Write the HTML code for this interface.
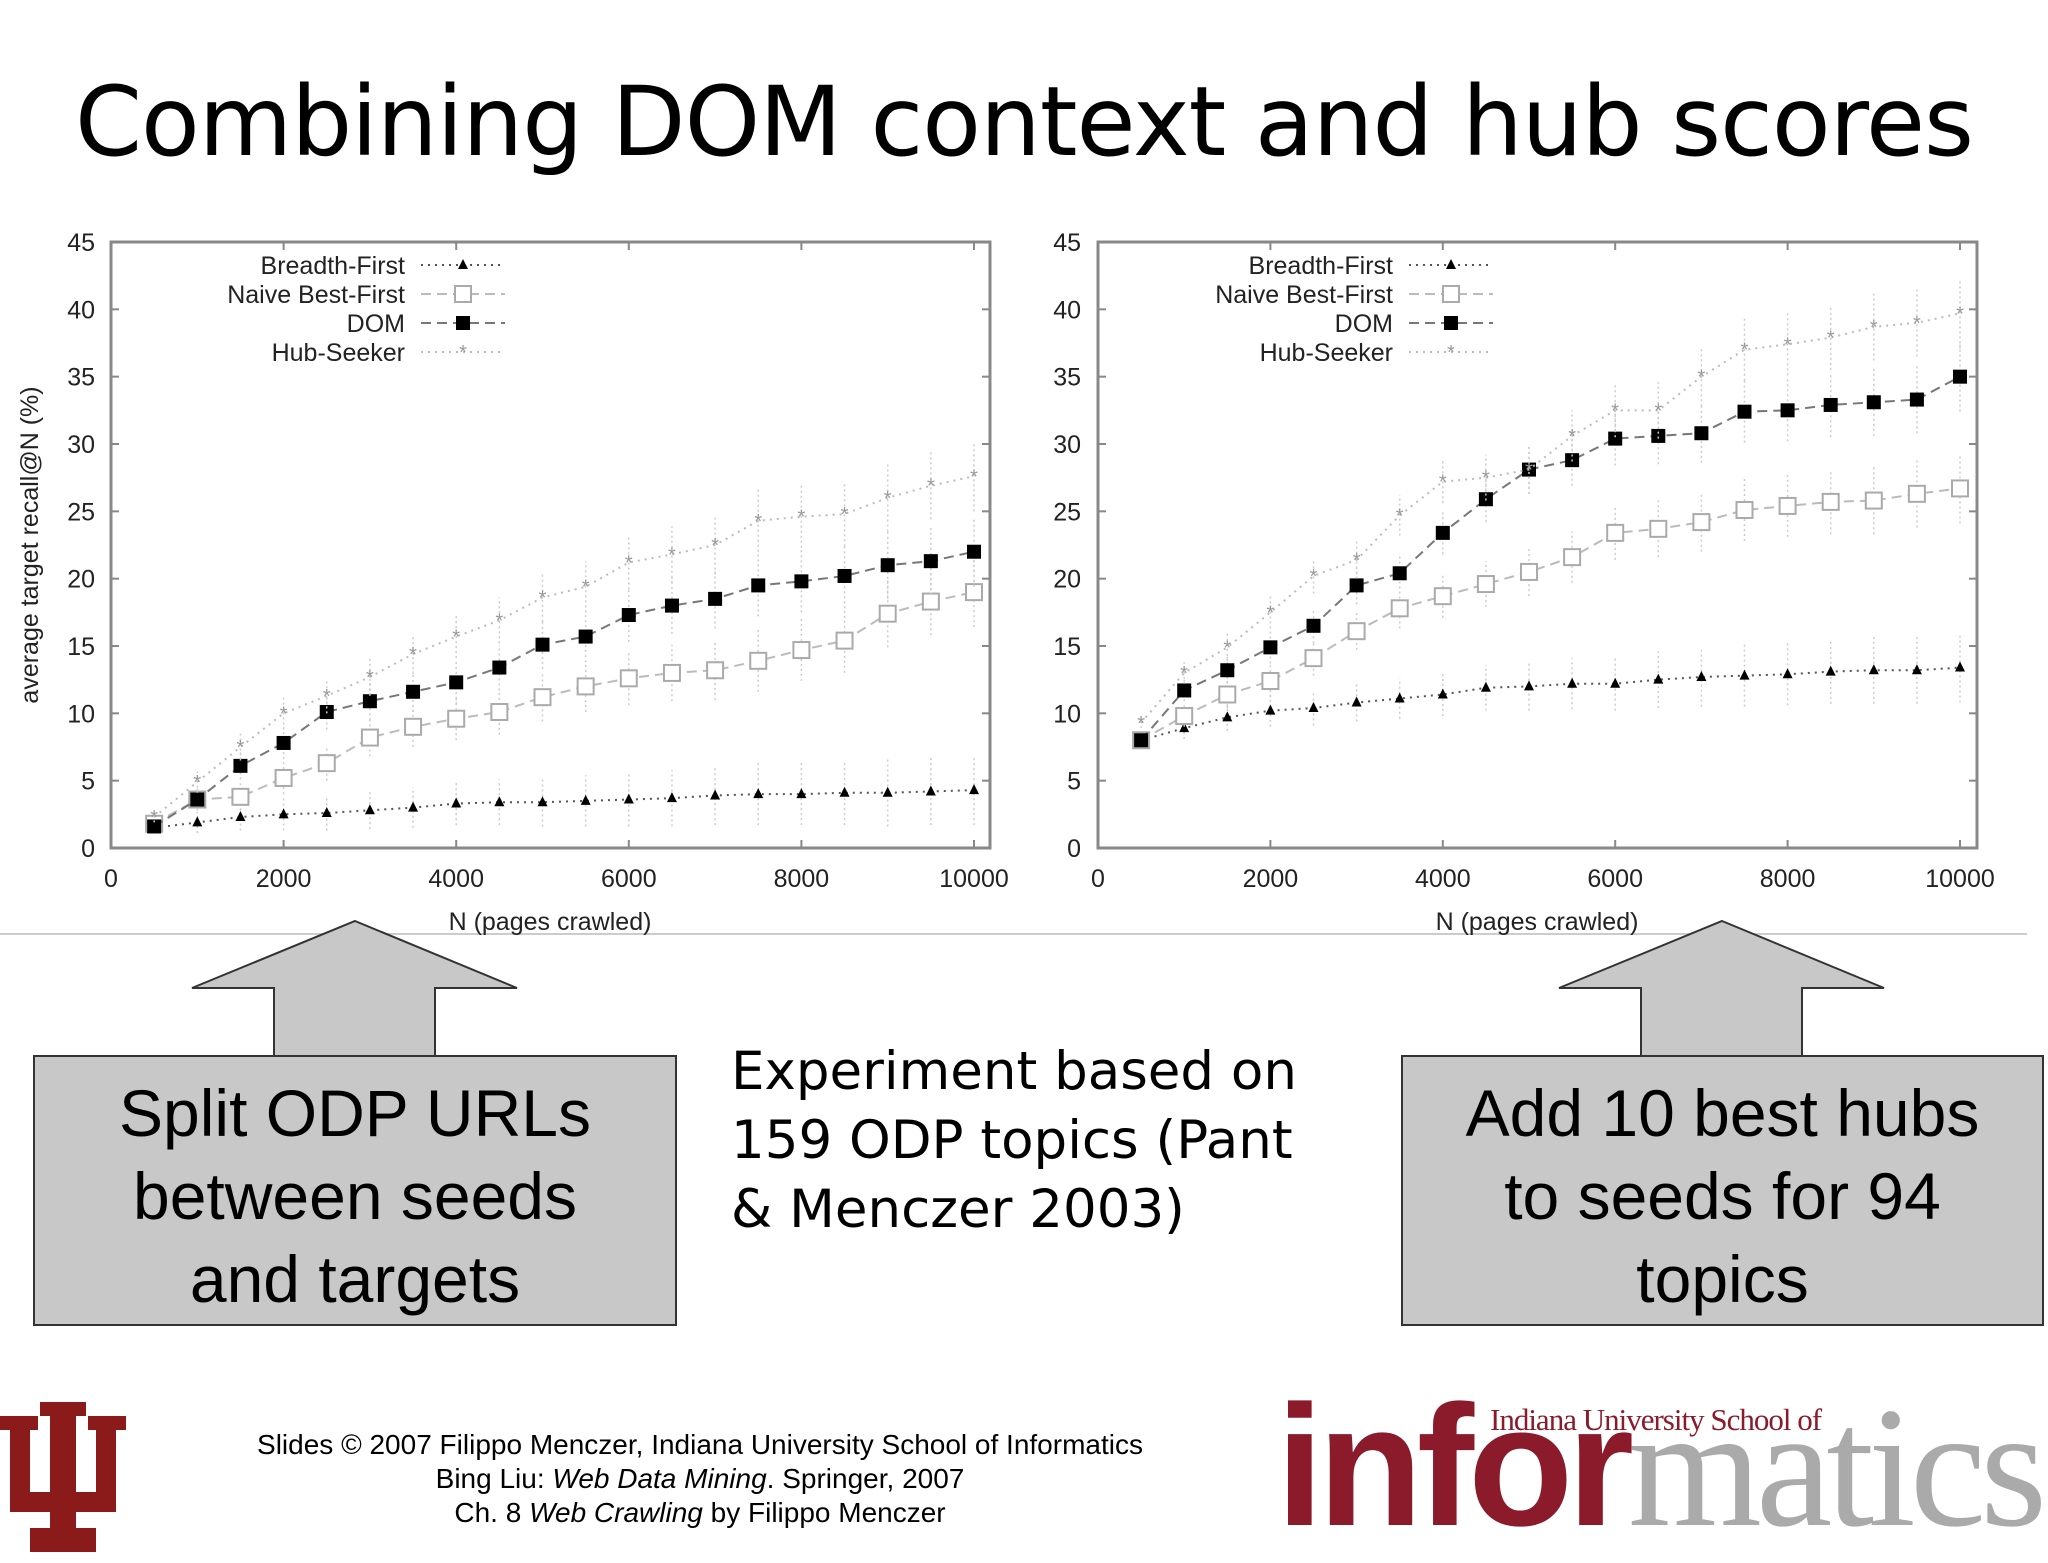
<!DOCTYPE html>
<html><head><meta charset="utf-8"><style>
body{margin:0;width:2048px;height:1536px;background:#fff;overflow:hidden;position:relative;font-family:"Liberation Sans",sans-serif}
.t{position:absolute;white-space:nowrap}
</style></head><body>
<div class="t" style="left:0;width:2048px;text-align:center;top:66px;font-family:'DejaVu Sans',sans-serif;font-size:96px;color:#000;letter-spacing:-1px">Combining DOM context and hub scores</div>
<svg id="chart" width="2048" height="1536" style="position:absolute;left:0;top:0">
<line x1="0" y1="934" x2="2027" y2="934" stroke="#ccc" stroke-width="2"/>
<polygon points="355,921 517,988 435,988 435,1058 274,1058 274,988 192,988" fill="#c8c8c8" stroke="#333" stroke-width="2"/>
<polygon points="1722,921 1884,988 1802,988 1802,1058 1641,1058 1641,988 1559,988" fill="#c8c8c8" stroke="#333" stroke-width="2"/>
<rect x="34" y="1056" width="642" height="269" fill="#c8c8c8" stroke="#333" stroke-width="2"/>
<rect x="1402" y="1056" width="641" height="269" fill="#c8c8c8" stroke="#333" stroke-width="2"/>
</svg>
<div class="t" style="left:34px;width:642px;top:1072px;text-align:center;font-size:66px;line-height:83px">Split ODP URLs<br>between seeds<br>and targets</div>
<div class="t" style="left:1402px;width:641px;top:1072px;text-align:center;font-size:66px;line-height:83px">Add 10 best hubs<br>to seeds for 94<br>topics</div>
<div class="t" style="left:731px;top:1037px;font-family:'DejaVu Sans',sans-serif;font-size:53px;line-height:69px">Experiment based on<br>159 ODP topics (Pant<br>&amp; Menczer 2003)</div>
<div class="t" style="left:200px;width:1000px;text-align:center;top:1428px;font-size:28px;line-height:34px">Slides © 2007 Filippo Menczer, Indiana University School of Informatics<br>Bing Liu: <i>Web Data Mining</i>. Springer, 2007<br>Ch. 8 <i>Web Crawling</i> by Filippo Menczer</div>
<svg width="130" height="160" style="position:absolute;left:0;top:1400px">
<g fill="#8b1a1a">
<rect x="0" y="16" width="38" height="14"/><rect x="88" y="16" width="38" height="14"/><rect x="40" y="2" width="46" height="14"/>
<rect x="10" y="16" width="20" height="88"/><rect x="96" y="16" width="20" height="88"/><rect x="50" y="2" width="26" height="128"/>
<rect x="10" y="92" width="106" height="20"/><rect x="30" y="128" width="66" height="24"/>
</g>
</svg>
<div class="t" style="left:1490px;top:1402px;font-family:'Liberation Serif',serif;font-size:31px;color:#8b1a2b;letter-spacing:-1px">Indiana University School of</div>
<div class="t" style="left:1276px;top:1380px;font-size:172px;font-weight:bold;letter-spacing:-6px;line-height:172px"><span style="color:#8b1a2b">infor</span><span style="color:#aaa;font-weight:normal;font-family:'Liberation Serif',serif">matics</span></div>
<script>
const xVals=[500,1000,1500,2000,2500,3000,3500,4000,4500,5000,5500,6000,6500,7000,7500,8000,8500,9000,9500,10000];
const xTicks=[0,2000,4000,6000,8000,10000];
const yTicks=[0,5,10,15,20,25,30,35,40,45];
const seriesNames=["Breadth-First","Naive Best-First","DOM","Hub-Seeker"];
const leftBF=[1.5,1.9,2.3,2.5,2.6,2.8,3.0,3.3,3.4,3.4,3.5,3.6,3.7,3.9,4.0,4.0,4.1,4.1,4.2,4.3];
const leftNBF=[1.8,3.6,3.8,5.2,6.3,8.2,9.0,9.6,10.1,11.2,12.0,12.6,13.0,13.2,13.9,14.7,15.4,17.4,18.3,19.0];
const leftDOM=[1.6,3.6,6.1,7.8,10.1,10.9,11.6,12.3,13.4,15.1,15.7,17.3,18.0,18.5,19.5,19.8,20.2,21.0,21.3,22.0];
const leftHub=[2.3,4.9,7.5,10.0,11.3,12.7,14.4,15.7,16.9,18.6,19.4,21.2,21.8,22.5,24.3,24.6,24.8,26.0,26.9,27.6];
const rightBF=[8.0,8.9,9.7,10.2,10.4,10.8,11.1,11.4,11.9,12.0,12.2,12.2,12.5,12.7,12.8,12.9,13.1,13.2,13.2,13.4];
const rightNBF=[8.0,9.8,11.4,12.4,14.1,16.1,17.8,18.7,19.6,20.5,21.6,23.4,23.7,24.2,25.1,25.4,25.7,25.8,26.3,26.7];
const rightDOM=[8.0,11.7,13.2,14.9,16.5,19.5,20.4,23.4,25.9,28.1,28.8,30.4,30.6,30.8,32.4,32.5,32.9,33.1,33.3,35.0];
const rightHub=[9.3,13.0,14.9,17.5,20.2,21.4,24.7,27.2,27.5,28.1,30.6,32.5,32.5,35.0,37.0,37.4,37.9,38.7,39.0,39.7];
const errBars=[0.4,0.8,1.0,1.2,1.3,1.4,1.5,1.6,1.7,1.8,1.9,2.0,2.1,2.2,2.3,2.3,2.4,2.5,2.5,2.6];
const NS="http://www.w3.org/2000/svg";
const svg=document.getElementById('chart');
function mk(tag,attrs,parent){const e=document.createElementNS(NS,tag);for(const k in attrs)e.setAttribute(k,attrs[k]);(parent||svg).appendChild(e);return e;}
const styles=[
 {line:"#555",dash:"2,5",marker:"tri",fill:"#000"},
 {line:"#bbb",dash:"10,6",marker:"hsq",fill:"#aaa"},
 {line:"#777",dash:"10,6",marker:"sq",fill:"#000"},
 {line:"#bbb",dash:"2,5",marker:"star",fill:"#999"}];
function marker(g,kind,x,y,c){
 let m;
 if(kind==="tri"){m=mk('polygon',{points:`${x},${y-6} ${x+5},${y+4} ${x-5},${y+4}`,fill:c},g);}
 else if(kind==="hsq"){m=mk('rect',{x:x-8,y:y-8,width:16,height:16,fill:"#fff",stroke:c,"stroke-width":2},g);}
 else if(kind==="sq"){m=mk('rect',{x:x-7,y:y-7,width:14,height:14,fill:c},g);}
 else {m=mk('text',{x:x,y:y+7,"text-anchor":"middle","font-size":"20",fill:c},g);m.textContent="*";}
 
 
}
function chart(id,x0,x1,frameR,y0,y1,data,labR,titleX,legR){
 const g=mk('g',{});
 
 
 const sx=v=>x0+(x1-x0)*v/10000, sy=v=>y0+(y1-y0)*v/45;
 const fr=mk('rect',{x:x0,y:y1,width:frameR-x0,height:y0-y1,fill:"none",stroke:"#888","stroke-width":3},g);
 
 
 yTicks.forEach(t=>{const y=sy(t);mk('line',{x1:x0,y1:y,x2:x0+8,y2:y,stroke:"#888","stroke-width":2},g);mk('line',{x1:frameR,y1:y,x2:frameR-8,y2:y,stroke:"#888","stroke-width":2},g);
  const tx=mk('text',{x:labR,y:y+9,"text-anchor":"end","font-size":"25",fill:"#222"},g);tx.textContent=t;
  
  });
 xTicks.forEach(t=>{const x=sx(t);mk('line',{x1:x,y1:y0,x2:x,y2:y0-8,stroke:"#888","stroke-width":2},g);mk('line',{x1:x,y1:y1,x2:x,y2:y1+8,stroke:"#888","stroke-width":2},g);
  const tx=mk('text',{x:x,y:y0+39,"text-anchor":"middle","font-size":"25",fill:"#222"},g);tx.textContent=t;
  
  });
 const xt=mk('text',{x:titleX,y:930,"text-anchor":"middle","font-size":"25",fill:"#222"},g);xt.textContent="N (pages crawled)";
 
 
 data.forEach((vals,si)=>{
  const st=styles[si];
  vals.forEach((v,i)=>{const x=sx(xVals[i]);const eb=mk('line',{x1:x,y1:sy(v-errBars[i]),x2:x,y2:sy(v+errBars[i]),stroke:"#ccc","stroke-width":1.5,"stroke-dasharray":"2,3"},g);
   
   });
  const pl=mk('polyline',{points:vals.map((v,i)=>sx(xVals[i])+","+sy(v)).join(" "),fill:"none",stroke:st.line,"stroke-width":2,"stroke-dasharray":st.dash},g);
  
  
  vals.forEach((v,i)=>marker(g,st.marker,sx(xVals[i]),sy(v),st.fill));
  const ly=265+si*29;
  const lt=mk('text',{x:legR,y:ly+9,"text-anchor":"end","font-size":"25",fill:"#222"},g);lt.textContent=seriesNames[si];
  
  
  mk('line',{x1:legR+16,y1:ly,x2:legR+100,y2:ly,stroke:st.line,"stroke-width":2,"stroke-dasharray":st.dash},g);
  marker(g,st.marker,legR+58,ly,st.fill);
 });
}
chart('left-chart',111,974,990,848,242,[leftBF,leftNBF,leftDOM,leftHub],95,550,405);
chart('right-chart',1098,1960,1977,848,242,[rightBF,rightNBF,rightDOM,rightHub],1081,1537,1393);
const yt=mk('text',{x:0,y:0,"text-anchor":"middle","font-size":"25",fill:"#222",transform:"translate(38,545) rotate(-90)"});
yt.textContent="average target recall@N (%)";


</script>
</body></html>
